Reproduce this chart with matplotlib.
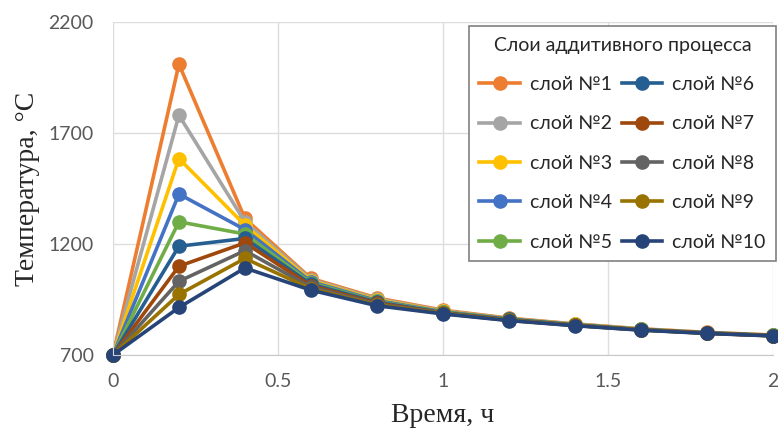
import matplotlib
matplotlib.use("Agg")
import matplotlib.pyplot as plt

# время, ч
time_h = [0, 0.2, 0.4, 0.6, 0.8, 1.0, 1.2, 1.4, 1.6, 1.8, 2.0]

# температура слоёв, °C
layer1 = [700, 2010, 1315, 1045, 957, 902, 866, 840, 818, 802, 790]
layer2 = [700, 1780, 1300, 1040, 953, 899, 864, 839, 817, 801, 789]
layer3 = [700, 1585, 1285, 1035, 949, 897, 863, 838, 816, 800, 789]
layer4 = [700, 1425, 1265, 1030, 945, 895, 862, 837, 815, 800, 788]
layer5 = [700, 1300, 1245, 1025, 941, 893, 861, 836, 815, 799, 788]
layer6 = [700, 1190, 1225, 1019, 938, 891, 860, 835, 814, 799, 787]
layer7 = [700, 1100, 1205, 1012, 934, 889, 858, 834, 814, 799, 787]
layer8 = [700, 1032, 1170, 1005, 930, 888, 857, 833, 813, 798, 787]
layer9 = [700, 973, 1135, 998, 926, 887, 856, 833, 813, 798, 786]
layer10 = [700, 914, 1092, 992, 922, 885, 855, 832, 812, 797, 786]

layers = [layer1, layer2, layer3, layer4, layer5,
          layer6, layer7, layer8, layer9, layer10]
labels = ["слой №%d" % (i + 1) for i in range(10)]
colors = ["#ED7D31", "#A5A5A5", "#FFC000", "#4472C4", "#70AD47",
          "#255E91", "#9E480E", "#636363", "#997300", "#264478"]

fig = plt.figure(figsize=(7.78, 4.36), dpi=100)
ax = fig.add_axes([0.1452, 0.1858, 0.848, 0.7637])

for vals, lab, c in zip(layers, labels, colors):
    ax.plot(time_h, vals, color=c, lw=2.6, marker="o", ms=9.5,
            label=lab, clip_on=False)

ax.set_xlim(0, 2)
ax.set_ylim(700, 2200)
ax.set_xticks([0, 0.5, 1, 1.5, 2])
ax.set_xticklabels(["0", "0.5", "1", "1.5", "2"])
ax.set_yticks([700, 1200, 1700, 2200])
ax.grid(True, color="#DDDDDD", lw=1)
ax.set_axisbelow(True)
for s in ["top", "right"]:
    ax.spines[s].set_visible(False)
ax.spines["left"].set_color("#DDDDDD")
ax.spines["bottom"].set_color("#C8C8C8")
ax.tick_params(length=0, labelsize=14, labelcolor="#595959")
ax.tick_params(axis="x", pad=13)
ax.tick_params(axis="y", pad=14)
for t in ax.get_xticklabels() + ax.get_yticklabels():
    t.set_family("Lato")

ax.set_xlabel("Время, ч", family="Liberation Serif", fontsize=20,
              color="#262626", labelpad=9)
ax.set_ylabel("Температура, °C", family="Liberation Serif", fontsize=20,
              color="#262626", labelpad=6)

leg = ax.legend(ncol=2, title="Слои аддитивного процесса",
                loc="upper left", bbox_to_anchor=(0.539, 0.988),
                fancybox=False, edgecolor="#808080", framealpha=1,
                prop={"family": "Lato", "size": 14},
                title_fontproperties={"family": "Lato", "size": 14},
                handlelength=2.1, labelspacing=1.15, columnspacing=0.5,
                handletextpad=0.5, borderpad=0.55, borderaxespad=0)
leg.get_frame().set_linewidth(1.2)
for t in leg.get_texts():
    t.set_color("#262626")
leg.get_title().set_color("#262626")

fig.savefig("out.png", dpi=100)
